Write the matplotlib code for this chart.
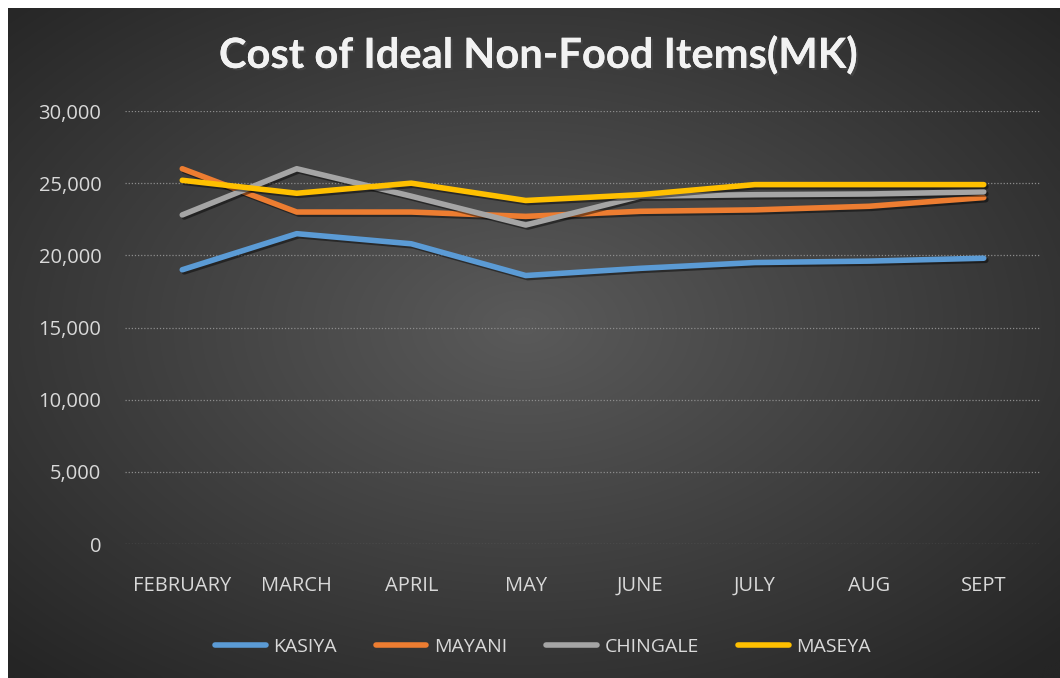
import numpy as np
import matplotlib
matplotlib.use("Agg")
import matplotlib.pyplot as plt
import matplotlib.patheffects as pe
from matplotlib.ticker import FuncFormatter

months = ["FEBRUARY", "MARCH", "APRIL", "MAY", "JUNE", "JULY", "AUG", "SEPT"]
kasiya = [19000, 21500, 20800, 18600, 19100, 19500, 19600, 19800]
mayani = [26000, 23000, 23000, 22700, 23050, 23150, 23400, 24000]
chingale = [22800, 26000, 24100, 22100, 24100, 24200, 24250, 24400]
maseya = [25200, 24300, 25000, 23800, 24200, 24900, 24900, 24900]

series = [("KASIYA", kasiya, "#5B9BD5"),
          ("MAYANI", mayani, "#ED7D31"),
          ("CHINGALE", chingale, "#A5A5A5"),
          ("MASEYA", maseya, "#FFC000")]

W, H = 1060, 678
plt.rcParams['font.family'] = ['Open Sans', 'DejaVu Sans']
fig = plt.figure(figsize=(W / 100, H / 100), dpi=100, facecolor="white")

# radial gradient background (Excel dark style)
bg = fig.add_axes([8 / W, 0, (W - 8) / W, (H - 8) / H])
bg.axis("off")
gx, gy = np.meshgrid(np.linspace(-1, 1, 400), np.linspace(-1, 1, 260))
r = np.sqrt((gx + 0.02) ** 2 + (gy + 0.05) ** 2) / np.sqrt(2)
r = np.clip(r, 0, 1)
center, edge = 0x5a / 255, 0x25 / 255
shade = center - (center - edge) * r
img = np.dstack([shade, shade, shade])
bg.imshow(img, aspect="auto", extent=[0, 1, 0, 1], interpolation="bicubic")
bg.set_xlim(0, 1)
bg.set_ylim(0, 1)

ax = fig.add_axes([125 / W, 134 / H, 916 / W, 433 / H])
ax.patch.set_alpha(0)
x = np.arange(len(months))
shadow = [pe.SimpleLineShadow(offset=(1.5, -1.5), alpha=0.45, shadow_color="black"), pe.Normal()]
for name, vals, col in series:
    ax.plot(x, vals, color=col, lw=4.0, label=name, solid_capstyle="round",
            solid_joinstyle="round", path_effects=shadow)

ax.set_xlim(-0.5, 7.5)
ax.set_ylim(0, 30000)
ax.set_yticks(np.arange(0, 30001, 5000))
ax.yaxis.set_major_formatter(FuncFormatter(lambda v, p: f"{int(v):,}"))
ax.set_xticks(x)
ax.set_xticklabels(months)
ax.tick_params(axis="both", length=0, colors="#D9D9D9", labelsize=14.5)
ax.tick_params(axis="x", pad=23)
ax.tick_params(axis="y", pad=17)
for s in ax.spines.values():
    s.set_visible(False)
ax.grid(axis="y", color="#8c8c8c", linestyle=(0, (1, 1.5)), linewidth=0.9)
ax.set_axisbelow(True)

fig.text(538 / W, 1 - 55 / H, "Cost of Ideal Non-Food Items(MK)", ha="center", va="center",
         color="#F2F2F2", fontsize=30, fontweight="bold", family=["Lato", "DejaVu Sans"],
         path_effects=[pe.withSimplePatchShadow(offset=(1.5, -1.5), alpha=0.7), pe.Normal()])

leg = fig.legend(loc="center", bbox_to_anchor=(543 / W, 1 - 647 / H), ncol=4, frameon=False,
                 fontsize=14, labelcolor="#D9D9D9", handlelength=2.6, handletextpad=0.4,
                 columnspacing=2.0)
for line in leg.get_lines():
    line.set_path_effects([])
    line.set_linewidth(4.0)

fig.savefig("out.png", dpi=100, facecolor=fig.get_facecolor())
